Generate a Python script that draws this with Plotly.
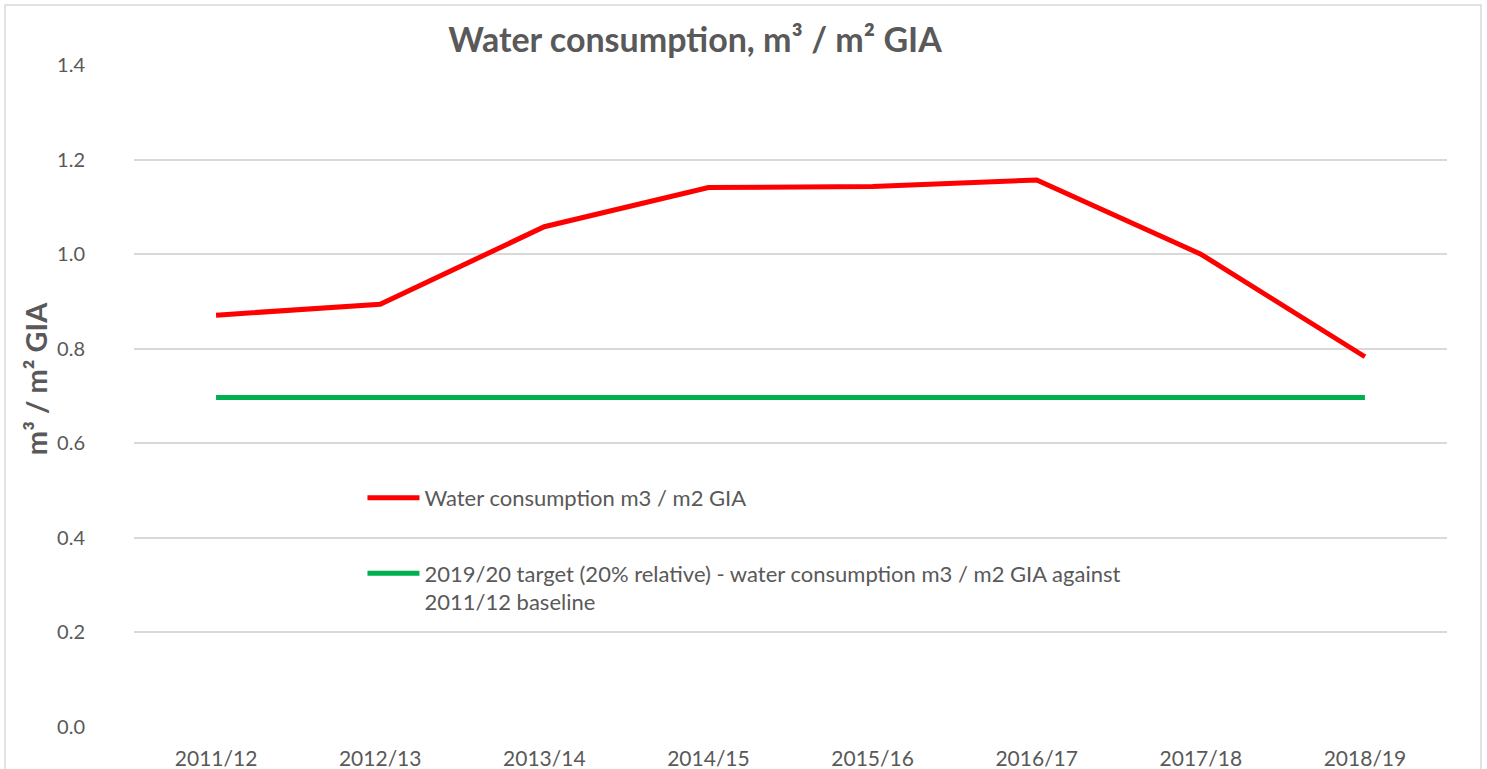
import plotly.graph_objects as go

# data
years = ["2011/12", "2012/13", "2013/14", "2014/15", "2015/16", "2016/17", "2017/18", "2018/19"]
water_use = [0.871, 0.894, 1.058, 1.141, 1.143, 1.157, 1.000, 0.783]
target = [0.697, 0.697, 0.697, 0.697, 0.697, 0.697, 0.697, 0.697]

red_name = "Water consumption m3 / m2 GIA"
green_name = "2019/20 target (20% relative) - water consumption m3 / m2 GIA against<br>2011/12 baseline"

TXT = "#595959"
FONT = "Lato, 'Open Sans', sans-serif"

fig = go.Figure()
fig.add_trace(go.Scatter(x=years, y=water_use, name=red_name, mode="lines",
                         line=dict(color="#FF0000", width=5), legend="legend"))
fig.add_trace(go.Scatter(x=years, y=target, name=green_name, mode="lines",
                         line=dict(color="#00B050", width=5), legend="legend2"))

# light border round the whole chart area
fig.add_shape(type="rect", xref="paper", yref="paper",
              x0=-0.0982, x1=1.0259, y0=-0.1, y1=1.0906,
              line=dict(color="#d9d9d9", width=1.5), fillcolor="rgba(0,0,0,0)", layer="below")

# y axis title sits a little above the plot centre in the original
fig.add_annotation(text="<b>m³ / m² GIA</b>", xref="paper", yref="paper",
                   x=-0.0754, y=0.527, textangle=-90, showarrow=False,
                   xanchor="center", yanchor="middle", font=dict(size=29, color=TXT))

fig.update_layout(
    width=1487, height=769,
    margin=dict(l=134, r=40, t=65, b=42, autoexpand=False),
    paper_bgcolor="white", plot_bgcolor="white",
    font=dict(family=FONT, color=TXT, size=20),
    title=dict(text="<b>Water consumption, m³ / m² GIA</b>", x=0.4674, xanchor="center",
               y=0.948, yanchor="middle", font=dict(size=34, color=TXT)),
    xaxis=dict(range=[-0.5, 7.5], showgrid=False, showline=False, ticks="", ticklabelstandoff=17,
               tickfont=dict(size=21, color=TXT), automargin=False),
    yaxis=dict(range=[0, 1.4], dtick=0.2, tickformat=".1f", showgrid=True,
               gridcolor="#d9d9d9", gridwidth=1.5, zeroline=False, showline=False,
               ticks="", ticklabelstandoff=48, tickfont=dict(size=20, color=TXT), automargin=False),
    legend=dict(x=0.174, y=0.346, xanchor="left", yanchor="middle", bgcolor="rgba(0,0,0,0)",
                font=dict(size=22, color=TXT), itemwidth=52),
    legend2=dict(x=0.174, y=0.21, xanchor="left", yanchor="middle", bgcolor="rgba(0,0,0,0)",
                 font=dict(size=22, color=TXT), itemwidth=52, valign="top"),
    showlegend=True,
)

fig.write_html("out.html", config={"displayModeBar": False},
               post_script="document.body.style.margin='0';")
